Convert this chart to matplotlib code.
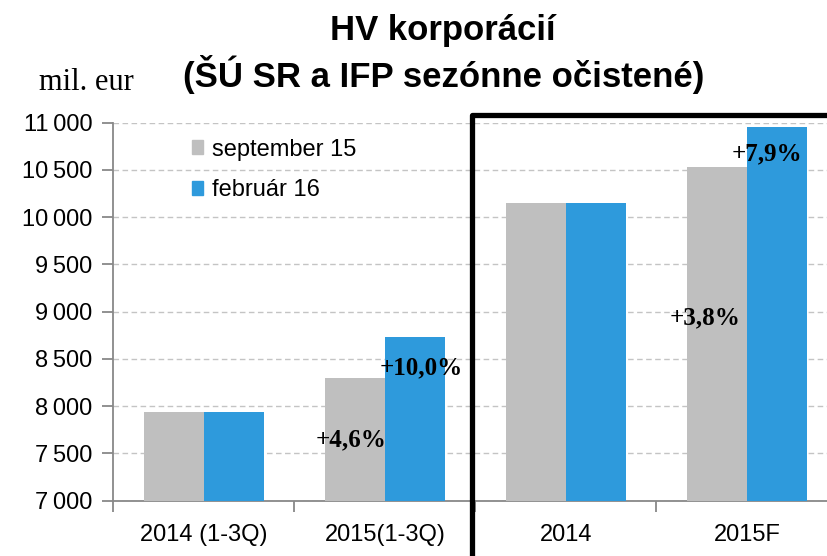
import numpy as np
import matplotlib
matplotlib.use("Agg")
import matplotlib.pyplot as plt
from matplotlib.patches import Rectangle, Patch
from matplotlib.ticker import FuncFormatter

# Údaje
kategorie = ["2014 (1-3Q)", "2015(1-3Q)", "2014", "2015F"]
sep15 = [7942, 8302, 10150, 10532]
feb16 = [7942, 8735, 10150, 10952]
nazvy_serii = ["september 15", "február 16"]
rasty = ["+4,6%", "+10,0%", "+3,8%", "+7,9%"]
rast_x = [1.31, 1.70, 3.27, 3.61]
rast_y = [7640, 8405, 8930, 10675]

seda = "#BFBFBF"
modra = "#2E9ADC"
sans = ["Liberation Sans", "DejaVu Sans"]

fig = plt.figure(figsize=(8.27, 5.56), dpi=100)
ax = fig.add_axes([0.1372, 0.0995, 0.8755, 0.6798])

x = np.arange(len(kategorie)) + 0.5
w = 0.332
ax.bar(x - w / 2, sep15, width=w, color=seda, label=nazvy_serii[0], zorder=3)
ax.bar(x + w / 2, feb16, width=w, color=modra, label=nazvy_serii[1], zorder=3)

ax.set_xlim(0, 4)
ax.set_ylim(7000, 11000)
ax.set_yticks(np.arange(7000, 11001, 500))
ax.yaxis.set_major_formatter(FuncFormatter(lambda v, p: f"{int(v):,}".replace(",", "\u2009")))
ax.grid(axis="y", color="#C4C4C4", linestyle=(0, (4, 2.5)), linewidth=1, zorder=0)

# kategórie na minor tickoch, hranice skupín na major
ax.set_xticks([0, 1, 2, 3, 4])
ax.set_xticklabels([])
ax.set_xticks(x, minor=True)
ax.set_xticklabels(kategorie, minor=True, fontsize=17, family=sans)
ax.tick_params(axis="x", which="minor", length=0, pad=17)
ax.tick_params(axis="x", which="major", length=8, color="#888888", width=1.3)
ax.tick_params(axis="y", length=8, color="#888888", width=1.3, labelsize=17, pad=7)
for lab in ax.get_yticklabels():
    lab.set_family(sans)

for s in ["top", "right"]:
    ax.spines[s].set_visible(False)
for s in ["left", "bottom"]:
    ax.spines[s].set_color("#888888")
    ax.spines[s].set_linewidth(1.3)

for t, tx, ty in zip(rasty, rast_x, rast_y):
    ax.text(tx, ty, t, ha="center", va="center", fontsize=18, fontweight="bold",
            family=["Liberation Serif", "DejaVu Serif"], zorder=5)

h = [Patch(color=seda), Patch(color=modra)]
ax.legend(h, nazvy_serii, loc="upper left", bbox_to_anchor=(0.108, 0.958),
          frameon=False, prop={"family": sans, "size": 17},
          handlelength=0.5, handleheight=0.5, handletextpad=0.38,
          labelspacing=0.8, borderpad=0, borderaxespad=0)

# čierny rámik okolo ročných údajov
fig.patches.append(Rectangle((472 / 827, -0.2), 0.6, 1.2 - 115 / 556,
                             transform=fig.transFigure, fill=False,
                             edgecolor="black", linewidth=3.8,
                             joinstyle="round", zorder=10))

titul = ["Liberation Sans", "DejaVu Sans"]
fig.text(0.536, 0.946, "HV korporácií", ha="center", va="center",
         fontsize=25, fontweight="bold", family=titul)
fig.text(0.536, 0.866, "(ŠÚ SR a IFP sezónne očistené)", ha="center", va="center",
         fontsize=25, fontweight="bold", family=titul)
fig.text(0.104, 0.852, "mil. eur", ha="center", va="center", fontsize=22,
         family=["Liberation Serif", "DejaVu Serif"])

fig.savefig("out.png", dpi=100)
